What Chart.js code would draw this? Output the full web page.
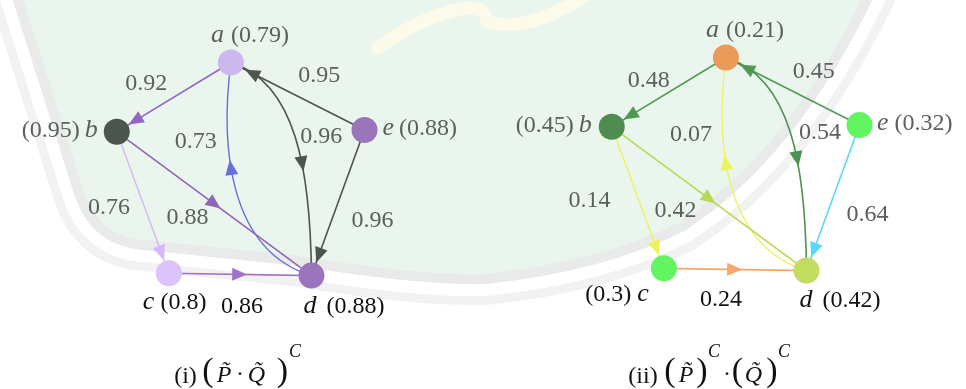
<!DOCTYPE html>
<html>
<head>
<meta charset="utf-8">
<title>Complement of fuzzy graph products</title>
<script src="https://cdn.jsdelivr.net/npm/chart.js@4.4.1/dist/chart.umd.min.js"></script>
<style>
  html, body { margin: 0; padding: 0; background: #fff; overflow: hidden; }
  #stage { position: relative; width: 966px; height: 389px; overflow: hidden; }
  #seal, #caps { position: absolute; left: 0; top: 0; }
  .panel { position: absolute; }
  #panel1 { left: 0; top: 0; }
  #panel2 { left: 495px; top: -5px; }
  .warm { position: absolute; left: -100px; top: -100px; font-family: "Liberation Serif"; }
</style>
</head>
<body>
<div id="stage">
  <canvas id="seal" width="966" height="389"></canvas>
  <canvas id="panel1" class="panel" width="495" height="345"></canvas>
  <canvas id="panel2" class="panel" width="495" height="345"></canvas>
  <svg id="caps" width="966" height="389" xmlns="http://www.w3.org/2000/svg"></svg>
  <span class="warm">0</span><span class="warm" style="font-style:italic">a</span>
</div>

<script>
// ---- graph data -------------------------------------------------------
const NODES = ['a', 'b', 'c', 'd', 'e'];

// membership values of the vertices
const vertexValuesI  = [0.79, 0.95, 0.8, 0.88, 0.88];   // (P·Q)^C
const vertexValuesII = [0.21, 0.45, 0.3, 0.42, 0.32];   // P^C · Q^C

// directed arcs
const EDGE_FROM = ['a', 'e', 'a', 'd', 'b', 'b', 'c', 'e'];
const EDGE_TO   = ['b', 'a', 'd', 'a', 'd', 'c', 'd', 'd'];

// membership values of the arcs
const edgeValuesI  = [0.92, 0.95, 0.96, 0.73, 0.88, 0.76, 0.86, 0.96];
const edgeValuesII = [0.48, 0.45, 0.54, 0.07, 0.42, 0.14, 0.24, 0.64];

// ---- layout (layout units, y grows downward) -----------------------------
const NODE_LAYOUT = {
  a: [4.60, 1.07],
  b: [2.19, 2.57],
  c: [3.29, 5.63],
  d: [6.30, 5.68],
  e: [7.42, 2.53]
};

const NODE_RADIUS = 13;
const ARROW_LEN = 15, ARROW_HALF = 6.5;
const GRAY_TEXT = '#5a615d', DARK_TEXT = '#111111';
const FAMILY = '"Liberation Serif", "Times New Roman", serif';
const TEXT_SIZE = 24, LETTER_SIZE = 26, CAPTION_SIZE = 24;

// how each arc is routed and where its arrowhead sits
// curve: cubic control points as [fraction along, fraction across] of the chord
const EDGE_SHAPE = [
  { arrow: 'end', gap: 1 },                                        // a→b
  { arrow: 'end', gap: 3 },                                        // e→a
  { arrowT: 0.64, curve: [[0.183, -0.237], [0.568, -0.159]] },     // a→d
  { arrowT: 0.62, curve: [[0.2345, -0.305], [0.684, -0.169]] },    // d→a
  { arrow: 'mid', ahead: 8 },                                      // b→d
  { arrow: 'end', gap: 1 },                                        // b→c
  { arrow: 'mid', ahead: 7 },                                      // c→d
  { arrow: 'end', gap: 1 }                                         // e→d
];

const PANELS = [
  {
    canvas: 'panel1',
    vertexValues: vertexValuesI,
    edgeValues: edgeValuesI,
    nodeColors: ['#cdb7ef', '#4b5550', '#dcc3fa', '#9b75bb', '#9a75bc'],
    edgeColors: ['#9165c0', '#4d5451', '#4d5451', '#6670d8', '#9066ba', '#d5b8f7', '#a274c8', '#4d5451'],
    edgeWidths: [1.6, 1.6, 1.6, 1.4, 1.6, 1.4, 1.6, 1.6],
    // pixel offsets of the weight text from the arc's middle
    edgeLabelOffset: [[-27.7, -14.8], [21.5, -22], [26, -2], [-40, -50], [-26.7, 11.9], [-33.8, 3], [1.9, 30.7], [34.5, 16.7]],
    edgeLabelDark: [false, false, false, false, false, false, true, false],
    nodeLabel: {
      a: { order: 'letter', dx: -20, dy: -20, gap: 7, dark: false },
      b: { order: 'value',  dx: -19, dy: 5,   gap: 5, dark: false },
      c: { order: 'letter', dx: -26, dy: 36,  gap: 6, dark: true },
      d: { order: 'letter', dx: -8,  dy: 37.5, gap: 10, dark: true },
      e: { order: 'letter', dx: 18,  dy: 5,   gap: 5, dark: false }
    }
  },
  {
    canvas: 'panel2',
    vertexValues: vertexValuesII,
    edgeValues: edgeValuesII,
    nodeColors: ['#eb9a57', '#4f8c50', '#62f562', '#c3dd62', '#62f562'],
    edgeColors: ['#4e9a4e', '#529a55', '#4e924f', '#eef25e', '#b8d757', '#eef25a', '#fba56c', '#5ad8fa'],
    edgeWidths: [1.6, 1.6, 1.6, 1.4, 1.6, 1.4, 1.8, 1.6],
    edgeLabelOffset: [[-20.2, -13], [21, -21.7], [29.7, -1.2], [-39.8, -52], [-33.7, 10.7], [-48.3, 1.8], [-14.2, 29], [34.5, 15]],
    edgeLabelDark: [false, false, false, false, false, false, true, false],
    nodeLabel: {
      a: { order: 'letter', dx: -20, dy: -20.5, gap: 7, dark: false },
      b: { order: 'value',  dx: -20, dy: 5,   gap: 5, dark: false },
      c: { order: 'value',  dx: -15, dy: 32.5, gap: 6, dark: true },
      d: { order: 'letter', dx: -7,  dy: 36.7, gap: 10, dark: true },
      e: { order: 'letter', dx: 17.5, dy: 5,  gap: 6, dark: false }
    }
  }
];

// ---- faint seal behind the figure -----------------------------------------
(function drawSeal() {
  const g = document.getElementById('seal').getContext('2d');
  g.fillStyle = '#ffffff';
  g.fillRect(0, 0, 966, 389);

  const outline = () => {
    g.beginPath();
    g.moveTo(20, -10);
    g.lineTo(84, 192);
    g.quadraticCurveTo(97, 232, 135, 239);
    g.lineTo(300, 256);
    g.quadraticCurveTo(420, 276, 485, 274);
    g.quadraticCurveTo(600, 262, 680, 222);
    g.quadraticCurveTo(790, 150, 866, -10);
    g.closePath();
  };
  g.lineJoin = 'round';
  outline(); g.lineWidth = 62; g.strokeStyle = '#f1f2f1'; g.stroke();
  outline(); g.lineWidth = 44; g.strokeStyle = '#ffffff'; g.stroke();
  outline(); g.lineWidth = 20; g.strokeStyle = '#e8ebe9'; g.stroke();
  outline(); g.fillStyle = '#eaf5ee'; g.fill();

  // pale crest stroke at the top
  g.beginPath();
  g.moveTo(378, 48);
  g.quadraticCurveTo(425, 14, 468, 8);
  g.quadraticCurveTo(486, 7, 487, 22);
  g.quadraticCurveTo(530, 34, 590, -8);
  g.lineWidth = 13; g.lineCap = 'round';
  g.strokeStyle = '#fcfbea';
  g.stroke();
})();

// ---- captions: [text, ink centre x, baseline y, kind] ----------------------
const CAPTIONS = [
  ['(i)', 185.5, 383, 'n'], ['(', 208, 381, 'bp'], ['P\u0303', 224, 382, 'v'], ['\u00B7', 240, 381, 'n'],
  ['Q\u0303', 256.5, 382, 'v'], [')', 282.5, 381, 'bp'], ['C', 295, 357, 'sup'],
  ['(ii)', 643, 383, 'n'], ['(', 670, 381, 'bp'], ['P\u0303', 686, 382, 'v'], [')', 702, 381, 'bp'],
  ['C', 714, 357, 'sup'], ['\u00B7', 727, 381, 'n'], ['(', 737.5, 381, 'bp'], ['Q\u0303', 753.5, 382, 'v'],
  [')', 772, 381, 'bp'], ['C', 784, 357, 'sup']
];
(function drawCaptions() {
  const svg = document.getElementById('caps');
  const NS = 'http://www.w3.org/2000/svg';
  const size = { n: CAPTION_SIZE, bp: 34, v: CAPTION_SIZE, sup: 18 };
  CAPTIONS.forEach(([txt, x, y, kind]) => {
    const t = document.createElementNS(NS, 'text');
    t.setAttribute('x', x);
    t.setAttribute('y', y);
    t.setAttribute('text-anchor', 'middle');
    t.setAttribute('fill', '#111');
    t.setAttribute('font-family', FAMILY);
    t.setAttribute('font-size', size[kind]);
    if (kind === 'v' || kind === 'sup') t.setAttribute('font-style', 'italic');
    t.textContent = txt;
    svg.appendChild(t);
  });
})();

// ---- geometry helpers ------------------------------------------------------
function bez(P0, C1, C2, P3, t) {
  const s = 1 - t;
  return {
    x: s*s*s*P0.x + 3*s*s*t*C1.x + 3*s*t*t*C2.x + t*t*t*P3.x,
    y: s*s*s*P0.y + 3*s*s*t*C1.y + 3*s*t*t*C2.y + t*t*t*P3.y
  };
}
function bezTangent(P0, C1, C2, P3, t) {
  const s = 1 - t;
  return {
    x: 3*s*s*(C1.x - P0.x) + 6*s*t*(C2.x - C1.x) + 3*t*t*(P3.x - C2.x),
    y: 3*s*s*(C1.y - P0.y) + 6*s*t*(C2.y - C1.y) + 3*t*t*(P3.y - C2.y)
  };
}
function arrowHead(ctx, tip, dir, color) {
  const l = Math.hypot(dir.x, dir.y), ux = dir.x / l, uy = dir.y / l;
  const nx = -uy, ny = ux;
  ctx.fillStyle = color;
  ctx.beginPath();
  ctx.moveTo(tip.x, tip.y);
  ctx.lineTo(tip.x - ARROW_LEN*ux + ARROW_HALF*nx, tip.y - ARROW_LEN*uy + ARROW_HALF*ny);
  ctx.lineTo(tip.x - ARROW_LEN*ux - ARROW_HALF*nx, tip.y - ARROW_LEN*uy - ARROW_HALF*ny);
  ctx.closePath();
  ctx.fill();
}

// ---- plugin drawing arcs, arrowheads and texts ---------------------------
function graphPlugin(panel) {
  const arcMiddles = [];
  const nodePixels = chart => {
    const meta = chart.getDatasetMeta(0);
    const out = {};
    NODES.forEach((n, i) => { out[n] = { x: meta.data[i].x, y: meta.data[i].y }; });
    return out;
  };
  return {
    id: 'fuzzyGraph',
    beforeDatasetsDraw(chart) {
      const ctx = chart.ctx;
      const P = nodePixels(chart);
      ctx.save();
      ctx.lineCap = 'round';
      EDGE_FROM.forEach((from, i) => {
        const A = P[from], B = P[EDGE_TO[i]];
        const shape = EDGE_SHAPE[i];
        const color = panel.edgeColors[i];
        const dx = B.x - A.x, dy = B.y - A.y, len = Math.hypot(dx, dy);
        const ux = dx / len, uy = dy / len, nx = -uy, ny = ux;
        ctx.strokeStyle = color;
        ctx.lineWidth = panel.edgeWidths[i];
        if (shape.curve) {
          const [[f1, g1], [f2, g2]] = shape.curve;
          const C1 = { x: A.x + f1*dx + g1*len*nx, y: A.y + f1*dy + g1*len*ny };
          const C2 = { x: A.x + f2*dx + g2*len*nx, y: A.y + f2*dy + g2*len*ny };
          ctx.beginPath();
          ctx.moveTo(A.x, A.y);
          ctx.bezierCurveTo(C1.x, C1.y, C2.x, C2.y, B.x, B.y);
          ctx.stroke();
          arrowHead(ctx, bez(A, C1, C2, B, shape.arrowT), bezTangent(A, C1, C2, B, shape.arrowT), color);
          arcMiddles[i] = bez(A, C1, C2, B, 0.5);
        } else {
          ctx.beginPath();
          ctx.moveTo(A.x, A.y);
          ctx.lineTo(B.x, B.y);
          ctx.stroke();
          const mid = { x: (A.x + B.x) / 2, y: (A.y + B.y) / 2 };
          let tip;
          if (shape.arrow === 'end') {
            const back = NODE_RADIUS + shape.gap;
            tip = { x: B.x - ux*back, y: B.y - uy*back };
          } else {
            tip = { x: mid.x + ux*shape.ahead, y: mid.y + uy*shape.ahead };
          }
          arrowHead(ctx, tip, { x: ux, y: uy }, color);
          arcMiddles[i] = mid;
        }
      });
      ctx.restore();
    },
    afterDatasetsDraw(chart) {
      const ctx = chart.ctx;
      const P = nodePixels(chart);
      ctx.save();
      ctx.textBaseline = 'alphabetic';

      // arc weights
      ctx.font = TEXT_SIZE + 'px ' + FAMILY;
      ctx.textAlign = 'center';
      panel.edgeValues.forEach((w, i) => {
        const m = arcMiddles[i], off = panel.edgeLabelOffset[i];
        ctx.fillStyle = panel.edgeLabelDark[i] ? DARK_TEXT : GRAY_TEXT;
        ctx.fillText(String(w), m.x + off[0], m.y + off[1] + 8);
      });

      // vertex names with their values
      ctx.textAlign = 'left';
      const letterFont = 'italic ' + LETTER_SIZE + 'px ' + FAMILY;
      const valueFont = TEXT_SIZE + 'px ' + FAMILY;
      NODES.forEach((n, i) => {
        const spec = panel.nodeLabel[n];
        const valueText = '(' + panel.vertexValues[i] + ')';
        ctx.fillStyle = spec.dark ? DARK_TEXT : GRAY_TEXT;
        ctx.font = letterFont; const lw = ctx.measureText(n).width;
        ctx.font = valueFont;  const vw = ctx.measureText(valueText).width;
        const x0 = P[n].x + spec.dx, y = P[n].y + spec.dy;
        if (spec.order === 'letter') {
          ctx.font = letterFont; ctx.fillText(n, x0, y);
          ctx.font = valueFont;  ctx.fillText(valueText, x0 + lw + spec.gap, y);
        } else {
          ctx.font = letterFont; ctx.fillText(n, x0 - lw, y);
          ctx.font = valueFont;  ctx.fillText(valueText, x0 - lw - spec.gap - vw, y);
        }
      });
      ctx.restore();
    }
  };
}

// ---- one scatter chart per graph -------------------------------------------
const charts = PANELS.map(panel => {
  const canvas = document.getElementById(panel.canvas);
  return new Chart(canvas, {
    type: 'scatter',
    data: {
      datasets: [{
        data: NODES.map(n => ({ x: NODE_LAYOUT[n][0], y: NODE_LAYOUT[n][1] })),
        pointRadius: NODE_RADIUS,
        pointHoverRadius: NODE_RADIUS,
        pointBorderWidth: 0,
        pointBackgroundColor: panel.nodeColors,
        pointBorderColor: panel.nodeColors
      }]
    },
    options: {
      responsive: false,
      animation: false,
      events: [],
      layout: { padding: 0 },
      scales: {
        x: { type: 'linear', display: false, min: 0, max: canvas.width / 50 },
        y: { type: 'linear', display: false, min: 0, max: canvas.height / 50, reverse: true }
      },
      plugins: { legend: { display: false }, tooltip: { enabled: false } }
    },
    plugins: [graphPlugin(panel)]
  });
});

// the serif face may arrive after the first paint; repaint once it is ready
if (document.fonts && document.fonts.load) {
  Promise.all([
    document.fonts.load('24px "Liberation Serif"'),
    document.fonts.load('italic 26px "Liberation Serif"')
  ]).then(() => charts.forEach(c => c.draw())).catch(() => {});
  document.fonts.ready.then(() => charts.forEach(c => c.draw()));
}
</script>
</body>
</html>
